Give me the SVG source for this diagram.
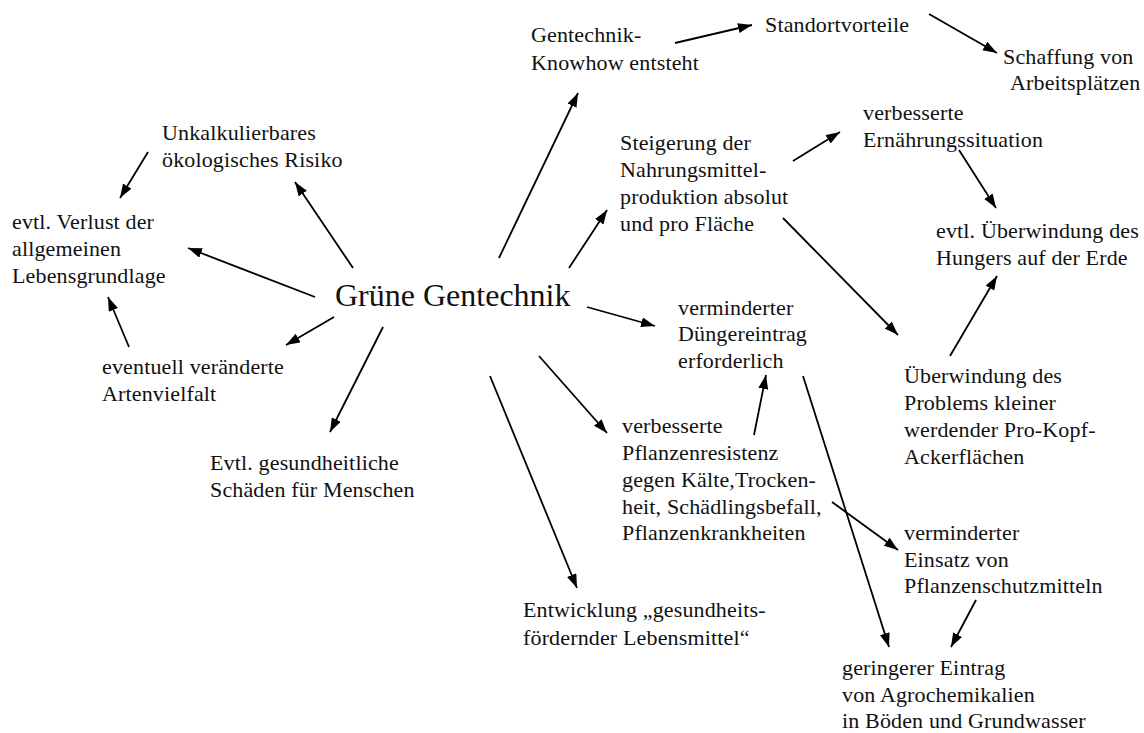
<svg xmlns="http://www.w3.org/2000/svg" width="1144" height="733" viewBox="0 0 1144 733">
<defs>
<marker id="ah" markerUnits="userSpaceOnUse" markerWidth="16" markerHeight="12" refX="14" refY="5" orient="auto">
<path d="M0,0 L14,5 L0,10 Z" fill="#000"/>
</marker>
<style>
text{font-family:"Liberation Serif","Times New Roman",serif;fill:#111}
.t{font-size:22px;letter-spacing:0.15px}
.title{font-size:32px}
.c line{stroke:#000;stroke-width:1.8;marker-end:url(#ah)}
</style>
</defs>
<rect width="1144" height="733" fill="#fff"/>
<g id="n-title"><text class="title" x="335" y="306">Grüne Gentechnik</text></g>
<g id="n-knowhow"><text class="t" x="531" y="42">Gentechnik-</text><text class="t" x="531" y="70">Knowhow entsteht</text></g>
<g id="n-standort"><text class="t" x="765" y="32">Standortvorteile</text></g>
<g id="n-schaffung"><text class="t" x="1003" y="64">Schaffung von</text><text class="t" x="1010" y="90">Arbeitsplätzen</text></g>
<g id="n-unkalk"><text class="t" x="162" y="140">Unkalkulierbares</text><text class="t" x="162" y="167">ökologisches Risiko</text></g>
<g id="n-ernaehrung"><text class="t" x="863" y="120">verbesserte</text><text class="t" x="863" y="147">Ernährungssituation</text></g>
<g id="n-steigerung"><text class="t" x="620" y="150">Steigerung der</text><text class="t" x="620" y="177">Nahrungsmittel-</text><text class="t" x="620" y="204">produktion absolut</text><text class="t" x="620" y="231">und pro Fläche</text></g>
<g id="n-verlust"><text class="t" x="12" y="229">evtl. Verlust der</text><text class="t" x="12" y="256">allgemeinen</text><text class="t" x="12" y="283">Lebensgrundlage</text></g>
<g id="n-hunger"><text class="t" x="936" y="238">evtl. Überwindung des</text><text class="t" x="936" y="265">Hungers auf der Erde</text></g>
<g id="n-duenger"><text class="t" x="678" y="315">verminderter</text><text class="t" x="678" y="341">Düngereintrag</text><text class="t" x="678" y="368">erforderlich</text></g>
<g id="n-arten"><text class="t" x="102" y="374">eventuell veränderte</text><text class="t" x="102" y="401">Artenvielfalt</text></g>
<g id="n-problem"><text class="t" x="904" y="383">Überwindung des</text><text class="t" x="904" y="410">Problems kleiner</text><text class="t" x="904" y="437">werdender Pro-Kopf-</text><text class="t" x="904" y="464">Ackerflächen</text></g>
<g id="n-gesund"><text class="t" x="210" y="470">Evtl. gesundheitliche</text><text class="t" x="210" y="497">Schäden für Menschen</text></g>
<g id="n-resistenz"><text class="t" x="622" y="433">verbesserte</text><text class="t" x="622" y="460">Pflanzenresistenz</text><text class="t" x="622" y="487">gegen Kälte,Trocken-</text><text class="t" x="622" y="514">heit, Schädlingsbefall,</text><text class="t" x="622" y="540">Pflanzenkrankheiten</text></g>
<g id="n-einsatz"><text class="t" x="904" y="540">verminderter</text><text class="t" x="904" y="567">Einsatz von</text><text class="t" x="904" y="593">Pflanzenschutzmitteln</text></g>
<g id="n-entwicklung"><text class="t" x="523" y="617">Entwicklung „gesundheits-</text><text class="t" x="523" y="645">fördernder Lebensmittel“</text></g>
<g id="n-eintrag"><text class="t" x="842" y="675">geringerer Eintrag</text><text class="t" x="842" y="702">von Agrochemikalien</text><text class="t" x="842" y="728">in Böden und Grundwasser</text></g>
<g id="connectors" class="c">
<line x1="499" y1="258" x2="578" y2="93"/>
<line x1="675" y1="43" x2="752" y2="25"/>
<line x1="929" y1="14" x2="997" y2="53"/>
<line x1="569" y1="268" x2="607" y2="210"/>
<line x1="793" y1="161" x2="840" y2="132"/>
<line x1="959" y1="150" x2="996" y2="208"/>
<line x1="783" y1="218" x2="898" y2="335"/>
<line x1="950" y1="356" x2="997" y2="276"/>
<line x1="587" y1="307" x2="655" y2="326"/>
<line x1="539" y1="356" x2="607" y2="433"/>
<line x1="754" y1="435" x2="766" y2="375"/>
<line x1="803" y1="376" x2="889" y2="647"/>
<line x1="832" y1="502" x2="898" y2="550"/>
<line x1="976" y1="600" x2="951" y2="647"/>
<line x1="490" y1="376" x2="577" y2="588"/>
<line x1="383" y1="327" x2="330" y2="432"/>
<line x1="334" y1="317" x2="286" y2="345"/>
<line x1="129" y1="347" x2="108" y2="297"/>
<line x1="315" y1="297" x2="188" y2="248"/>
<line x1="353" y1="268" x2="295" y2="182"/>
<line x1="148" y1="152" x2="120" y2="198"/>
</g>
</svg>
